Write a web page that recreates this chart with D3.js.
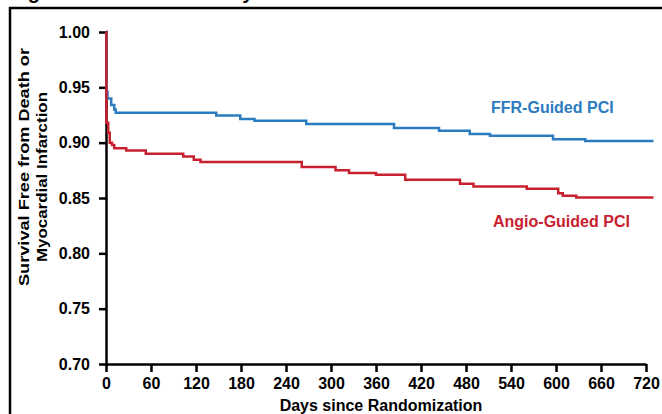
<!DOCTYPE html>
<html>
<head>
<meta charset="UTF-8">
<script src="https://d3js.org/d3.v7.min.js"></script>
<style>
  body { margin: 0; background: #fff; }
  svg text { font-family: 'Liberation Sans', Arial, sans-serif; font-weight: bold; }
</style>
</head>
<body>
<svg id="km" width="662" height="414"></svg>
<script>
  // values (step points: day, survival)
  const ffrDays = [0, 1, 2, 7, 11, 13, 147, 179, 198, 267, 384, 444, 485, 512, 596, 639, 730];
  const ffrSurv = [1.0, 0.946, 0.940, 0.934, 0.930, 0.927, 0.9246, 0.9213, 0.9198, 0.9168, 0.9132, 0.9108, 0.9078, 0.9062, 0.9032, 0.9014, 0.9014];
  const angioDays = [0, 0.5, 3, 5, 8, 11, 27, 53, 103, 117, 126, 261, 306, 324, 360, 399, 472, 490, 561, 603, 609, 627, 730];
  const angioSurv = [1.0, 0.918, 0.909, 0.900, 0.898, 0.895, 0.893, 0.890, 0.8875, 0.8846, 0.8825, 0.878, 0.875, 0.8725, 0.871, 0.8665, 0.8628, 0.8604, 0.8583, 0.8544, 0.852, 0.8505, 0.8505];
  const xTicks = [0, 60, 120, 180, 240, 300, 360, 420, 480, 540, 600, 660, 720];
  const yTicks = [0.70, 0.75, 0.80, 0.85, 0.90, 0.95, 1.00];
  const seriesNames = ['FFR-Guided PCI', 'Angio-Guided PCI'];

  const blue = '#2b7bc1', red = '#c8202f';

  const svg = d3.select('#km');
  svg.append('rect').attr('width', 662).attr('height', 414).attr('fill', '#fff');

  // title, cropped by the top of the picture (only descenders show)
  svg.append('text')
    .attr('x', 10).attr('y', -1)
    .attr('font-size', 20)
    .text('Figure 2. Outcomes at 2 years');

  // frame
  svg.append('path')
    .attr('d', 'M10,414V8H662')
    .attr('fill', 'none')
    .attr('stroke', '#000')
    .attr('stroke-width', 2.5);

  const x = d3.scaleLinear().domain([0, 720]).range([106, 646]);
  const y = d3.scaleLinear().domain([0.70, 1.00]).range([364, 32]);

  const xAxis = svg.append('g')
    .attr('transform', 'translate(0,364)')
    .call(d3.axisBottom(x).tickValues(xTicks).tickSize(8).tickSizeOuter(0).tickPadding(6));
  const yAxis = svg.append('g')
    .attr('transform', 'translate(106,0)')
    .call(d3.axisLeft(y).tickValues(yTicks).tickSize(7).tickSizeOuter(0).tickPadding(9)
      .tickFormat(d3.format('.2f')));

  [xAxis, yAxis].forEach(g => {
    g.selectAll('path, line').attr('stroke', '#000').attr('stroke-width', 2.5);
    g.selectAll('text').attr('font-size', 16).attr('fill', '#000')
      .style('font-family', "'Liberation Sans', Arial, sans-serif").style('font-weight', 'bold');
  });

  // curves
  const line = d3.line()
    .x(d => x(d[0]))
    .y(d => y(d[1]))
    .curve(d3.curveStepAfter);

  const ffr = ffrDays.map((d, i) => [d, ffrSurv[i]]);
  const angio = angioDays.map((d, i) => [d, angioSurv[i]]);

  svg.append('path').datum(ffr)
    .attr('d', line).attr('fill', 'none').attr('stroke', blue).attr('stroke-width', 2.5);
  svg.append('path').datum(angio)
    .attr('d', line).attr('fill', 'none').attr('stroke', red).attr('stroke-width', 2.5);

  // series labels
  svg.append('text').attr('x', 491).attr('y', 113).attr('font-size', 16)
    .attr('fill', blue).text(seriesNames[0]);
  svg.append('text').attr('x', 493).attr('y', 227).attr('font-size', 16)
    .attr('fill', red).text(seriesNames[1]);

  // axis titles
  svg.append('text').attr('x', 381).attr('y', 411).attr('font-size', 16)
    .attr('text-anchor', 'middle').text('Days since Randomization');

  svg.append('text')
    .attr('transform', 'translate(28.5,167) rotate(-90)')
    .attr('text-anchor', 'middle').attr('font-size', 15)
    .attr('textLength', 238).attr('lengthAdjust', 'spacingAndGlyphs')
    .text('Survival Free from Death or');
  svg.append('text')
    .attr('transform', 'translate(47,177) rotate(-90)')
    .attr('text-anchor', 'middle').attr('font-size', 15)
    .attr('textLength', 170).attr('lengthAdjust', 'spacingAndGlyphs')
    .text('Myocardial Infarction');
</script>
</body>
</html>
